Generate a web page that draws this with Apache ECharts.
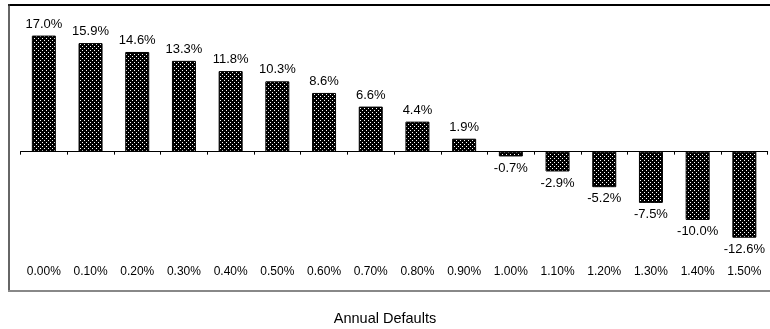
<!DOCTYPE html>
<html>
<head>
<meta charset="utf-8">
<script src="https://cdn.jsdelivr.net/npm/echarts@6/dist/echarts.min.js"></script>
<style>
  html, body { margin: 0; padding: 0; background: #fff; }
  #chart { width: 770px; height: 329px; }
</style>
</head>
<body>
<div id="chart"></div>
<script>
// Default-rate scenarios and the resulting change for each
const categories = ['0.00%', '0.10%', '0.20%', '0.30%', '0.40%', '0.50%', '0.60%', '0.70%',
                    '0.80%', '0.90%', '1.00%', '1.10%', '1.20%', '1.30%', '1.40%', '1.50%'];
const values = [17.0, 15.9, 14.6, 13.3, 11.8, 10.3, 8.6, 6.6, 4.4, 1.9,
                -0.7, -2.9, -5.2, -7.5, -10.0, -12.6];
const axisTitle = 'Annual Defaults';

// Dotted fill: black tile with staggered white dots
function dotPattern() {
  const c = document.createElement('canvas');
  c.width = 4; c.height = 4;
  const g = c.getContext('2d');
  g.fillStyle = '#000';
  g.fillRect(0, 0, 4, 4);
  g.fillStyle = '#fff';
  g.fillRect(0, 0, 1, 1);
  g.fillRect(2, 2, 1, 1);
  return c;
}

const chart = echarts.init(document.getElementById('chart'), null, { renderer: 'canvas' });
const font = 'Arial, "Liberation Sans", sans-serif';

chart.setOption({
  animation: false,
  grid: { left: 20.5, right: 2.3, top: 15.1, bottom: 74.9, containLabel: false },
  xAxis: [
    {
      type: 'category',
      data: categories,
      axisLine: { onZero: true, lineStyle: { color: '#000', width: 1 } },
      axisTick: { show: true, length: 3, inside: false, lineStyle: { color: '#000' } },
      axisLabel: { show: false }
    },
    {
      type: 'category',
      data: categories,
      position: 'bottom',
      axisLine: { show: false, onZero: false },
      axisTick: { show: false },
      axisLabel: { show: true, margin: 12, color: '#000', fontSize: 12, fontFamily: font }
    }
  ],
  yAxis: {
    type: 'value', min: -15, max: 20, show: false,
    splitLine: { show: false }
  },
  series: [{
    type: 'bar',
    xAxisIndex: 0,
    barWidth: 24,
    data: values.map(v => ({
      value: v,
      label: { position: v < 0 ? 'bottom' : 'top' }
    })),
    itemStyle: {
      color: { image: dotPattern(), repeat: 'repeat' },
      borderColor: '#000',
      borderWidth: 1
    },
    label: {
      show: true,
      distance: 5,
      color: '#000',
      fontSize: 13,
      fontFamily: font,
      formatter: p => p.value.toFixed(1) + '%'
    }
  }],
  graphic: [
    { type: 'line', shape: { x1: 8, y1: 5, x2: 770, y2: 5 }, style: { stroke: '#000', lineWidth: 2 } },
    { type: 'line', shape: { x1: 9, y1: 4, x2: 9, y2: 291 }, style: { stroke: '#333', lineWidth: 1.5 } },
    { type: 'line', shape: { x1: 8, y1: 291, x2: 770, y2: 291 }, style: { stroke: '#888', lineWidth: 2 } },
    {
      type: 'text', x: 385, y: 318.5,
      style: { text: axisTitle, fill: '#000', font: '14.5px ' + font, textAlign: 'center', textVerticalAlign: 'middle' }
    }
  ]
});
</script>
</body>
</html>
